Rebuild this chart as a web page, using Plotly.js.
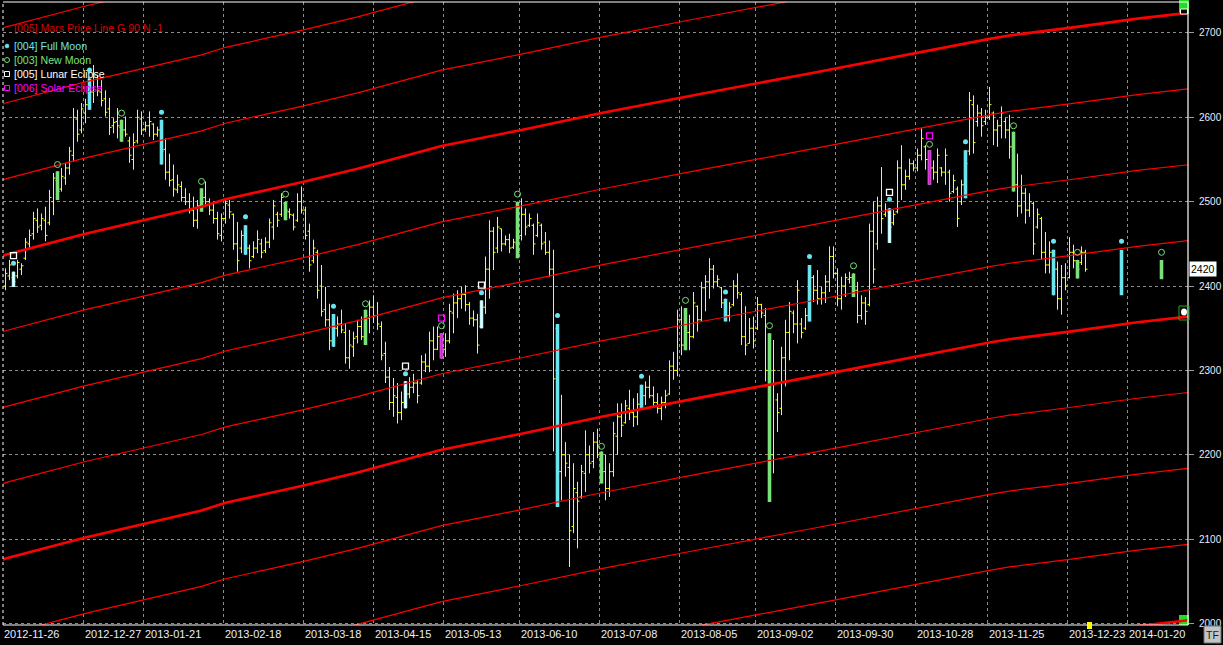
<!DOCTYPE html>
<html><head><meta charset="utf-8">
<script src="https://cdn.plot.ly/plotly-3.0.1.min.js"></script>
<style>html,body{margin:0;padding:0;background:#000;overflow:hidden}#chart{width:1223px;height:645px}</style>
</head><body><div id="chart"></div><script>
// ---------- DATA ----------
const barOpen = [
2400,2412,2410,2412,2420,2433,2450,2462,2478,2472,
2478,2475,2500,2525,2515,2528,2540,2555,2598,2585,
2605,2615,2630,2645,2630,2622,2610,2590,2595,2588,
2585,2572,2550,2572,2598,2586,2590,2592,2580,2585,
2562,2535,2526,2514,2518,2505,2500,2490,2478,2495,
2505,2500,2490,2480,2460,2480,2496,2485,2450,2445,
2460,2445,2435,2445,2450,2442,2452,2470,2485,2485,
2498,2488,2484,2478,2500,2490,2465,2430,2440,2400,
2372,2360,2335,2350,2355,2345,2315,2328,2340,2352,
2340,2362,2375,2365,2352,2320,2292,2262,2268,2250,
2262,2272,2280,2285,2285,2310,2305,2335,2325,2340,
2325,2335,2368,2380,2385,2390,2378,2362,2360,2352,
2375,2420,2465,2445,2468,2450,2455,2446,2450,2460,
2485,2472,2472,2460,2472,2452,2440,2420,2350,2180,
2200,2185,2115,2155,2150,2178,2200,2192,2215,2198,
2180,2160,2180,2222,2245,2238,2255,2250,2245,2260,
2270,2280,2270,2262,2255,2262,2272,2305,2300,2360,
2330,2345,2340,2376,2360,2398,2405,2420,2405,2398,
2380,2365,2378,2400,2390,2340,2332,2350,2350,2378,
2365,2300,2200,2265,2255,2315,2345,2368,2355,2355,
2350,2365,2410,2395,2385,2392,2405,2435,2415,2385,
2400,2408,2410,2395,2365,2380,2378,2465,2450,2495,
2485,2488,2475,2488,2540,2520,2530,2545,2540,2555,
2565,2550,2540,2535,2540,2535,2535,2512,2515,2500,
2520,2560,2615,2595,2605,2595,2600,2605,2585,2590,
2595,2585,2565,2520,2495,2510,2490,2498,2470,2480,
2440,2425,2440,2420,2385,2410,2410,2440,2430,2428,
2440];
const barHigh = [
2421,2431,2417,2431,2427,2457,2467,2488,2492,2486,
2494,2514,2534,2536,2540,2546,2565,2611,2609,2617,
2622,2646,2662,2650,2644,2632,2623,2599,2611,2597,
2601,2577,2581,2609,2607,2595,2607,2593,2589,2597,
2575,2557,2544,2532,2524,2516,2510,2506,2502,2516,
2524,2504,2500,2488,2486,2504,2502,2486,2476,2466,
2472,2449,2453,2466,2456,2458,2480,2502,2488,2510,
2500,2492,2486,2510,2518,2494,2474,2455,2443,2425,
2399,2379,2367,2364,2372,2356,2348,2346,2360,2364,
2372,2383,2389,2381,2358,2334,2304,2291,2285,2275,
2287,2292,2296,2289,2318,2320,2346,2352,2352,2344,
2344,2379,2391,2395,2399,2401,2381,2371,2367,2383,
2435,2478,2470,2482,2468,2460,2462,2456,2500,2504,
2492,2486,2474,2486,2474,2464,2454,2443,2355,2271,
2215,2200,2190,2168,2188,2229,2211,2227,2231,2204,
2200,2190,2239,2261,2261,2265,2277,2267,2273,2283,
2287,2294,2281,2273,2269,2277,2312,2322,2372,2376,
2374,2366,2393,2377,2405,2413,2433,2425,2413,2399,
2385,2381,2407,2415,2393,2376,2362,2364,2387,2379,
2374,2344,2336,2273,2328,2360,2381,2371,2407,2362,
2374,2425,2413,2419,2399,2413,2447,2447,2421,2411,
2415,2417,2415,2405,2389,2387,2474,2500,2506,2541,
2498,2492,2490,2549,2567,2538,2551,2549,2563,2587,
2567,2561,2549,2563,2541,2563,2538,2532,2518,2526,
2561,2630,2626,2615,2611,2609,2636,2607,2597,2613,
2599,2603,2583,2557,2532,2516,2510,2500,2492,2482,
2464,2453,2443,2429,2425,2427,2458,2449,2431,2447,
2443];
const barLow = [
2395,2407,2399,2409,2413,2431,2443,2455,2463,2466,
2453,2472,2484,2502,2512,2520,2532,2548,2571,2581,
2593,2609,2617,2625,2613,2601,2579,2581,2575,2571,
2577,2546,2538,2569,2579,2583,2577,2573,2577,2544,
2526,2518,2506,2510,2500,2496,2486,2470,2468,2488,
2494,2484,2474,2455,2453,2474,2480,2443,2417,2439,
2437,2421,2433,2439,2433,2439,2445,2455,2470,2482,
2478,2480,2466,2476,2486,2455,2417,2427,2385,2364,
2352,2324,2328,2340,2344,2308,2302,2316,2332,2336,
2330,2344,2356,2348,2312,2285,2253,2245,2237,2241,
2255,2267,2273,2261,2283,2298,2298,2312,2324,2314,
2316,2332,2344,2362,2373,2370,2354,2352,2320,2350,
2367,2385,2419,2439,2441,2448,2439,2444,2433,2454,
2460,2470,2437,2458,2443,2437,2411,2204,2138,2146,
2174,2067,2107,2089,2148,2156,2178,2184,2196,2166,
2146,2150,2174,2200,2221,2237,2241,2233,2235,2253,
2259,2267,2257,2249,2241,2255,2271,2289,2293,2318,
2324,2324,2338,2346,2358,2370,2385,2397,2399,2374,
2358,2358,2376,2385,2330,2318,2332,2326,2348,2362,
2287,2144,2178,2227,2247,2281,2312,2344,2332,2338,
2348,2358,2381,2378,2378,2380,2393,2409,2376,2372,
2387,2403,2387,2356,2360,2354,2376,2403,2443,2462,
2482,2451,2472,2486,2502,2514,2526,2536,2536,2549,
2538,2520,2526,2522,2530,2520,2500,2510,2470,2496,
2504,2555,2557,2589,2577,2591,2597,2567,2565,2575,
2575,2551,2512,2482,2486,2474,2482,2437,2468,2431,
2415,2415,2389,2372,2366,2395,2409,2421,2409,2425,
2417];
const barClose = [
2415,2425,2405,2428,2424,2452,2460,2480,2470,2480,
2460,2505,2528,2512,2530,2540,2560,2600,2580,2610,
2615,2630,2650,2632,2620,2606,2588,2594,2590,2585,
2580,2555,2570,2600,2585,2590,2595,2580,2585,2560,
2535,2525,2515,2520,2505,2500,2490,2478,2495,2505,
2500,2490,2480,2462,2480,2498,2488,2450,2430,2460,
2445,2430,2445,2455,2440,2452,2475,2495,2478,2505,
2490,2485,2470,2500,2490,2460,2425,2445,2395,2370,
2360,2335,2350,2355,2348,2315,2330,2338,2352,2340,
2365,2375,2365,2355,2318,2292,2262,2270,2250,2262,
2272,2280,2285,2270,2310,2305,2335,2325,2340,2325,
2335,2370,2380,2385,2390,2378,2362,2360,2330,2375,
2420,2465,2440,2470,2450,2455,2445,2452,2440,2485,
2470,2480,2450,2475,2450,2440,2420,2290,2180,2200,
2190,2110,2160,2145,2180,2200,2190,2215,2200,2180,
2160,2180,2225,2245,2235,2258,2250,2245,2260,2270,
2280,2270,2262,2255,2262,2270,2305,2300,2360,2330,
2345,2340,2380,2360,2398,2405,2420,2405,2408,2380,
2365,2375,2400,2392,2340,2330,2350,2335,2378,2368,
2300,2200,2300,2250,2315,2345,2370,2355,2395,2345,
2365,2410,2395,2385,2392,2405,2435,2415,2385,2400,
2410,2410,2395,2365,2380,2370,2465,2420,2495,2480,
2490,2470,2485,2540,2520,2530,2545,2540,2555,2575,
2550,2540,2535,2555,2535,2555,2510,2525,2480,2520,
2545,2620,2570,2605,2590,2600,2615,2585,2590,2605,
2585,2565,2520,2495,2510,2490,2500,2450,2485,2440,
2425,2440,2420,2385,2410,2400,2440,2430,2420,2440,
2420];

// projected moon bars beyond the last session
const futureSlots = [279, 289];
const futureOpen  = [2440, 2428];
const futureHigh  = [2443, 2431];
const futureLow   = [2389, 2408];
const futureClose = [2413, 2419];

// lunar events (bar slots) and marker price levels
const fullMoonSlots = [2, 21, 39, 60, 82, 100, 119, 138, 159, 180, 201, 221, 240, 262, 279];
const fullMoonDot   = [2427, 2656, 2606, 2482, 2376, 2296, 2392, 2365, 2293, 2393, 2435, 2503, 2571, 2453, 2453];
const newMoonSlots  = [13, 29, 49, 70, 90, 109, 128, 149, 170, 191, 212, 231, 252, 268, 289];
const newMoonMark   = [2544, 2605, 2524, 2509, 2379, 2353, 2509, 2210, 2383, 2353, 2424, 2568, 2590, 2440, 2440];
const lunarEclSlots = [2, 100, 119, 221];
const lunarEclMark  = [2436, 2305, 2401, 2511];
const solarEclSlots = [109, 231];
const solarEclMark  = [2362, 2578];

// Mars price line (base harmonic) and its 90-point harmonics
const marsSlots  = [-1, 0, 20, 30, 49, 55, 74, 88, 103, 109, 129, 149, 174, 201, 246, 251, 266, 283, 296];
const marsBase   = [2075, 2077, 2102, 2113, 2134, 2143, 2163, 2179, 2198, 2206, 2225, 2245, 2268, 2292, 2333, 2337, 2346, 2357, 2364];
const marsOffsets = [-360, -270, -180, -90, 0, 90, 180, 270, 360, 450, 540, 630];

// x-axis date labels
const dateLabels = ['2012-11-26','2012-12-27','2013-01-21','2013-02-18','2013-03-18','2013-04-15','2013-05-13','2013-06-10',
  '2013-07-08','2013-08-05','2013-09-02','2013-09-30','2013-10-28','2013-11-25','2013-12-23','2014-01-20'];
const dateSlots = [-0.625, 19.5, 34.5, 54.5, 74.5, 92, 109.5, 128.5, 148.5, 168.5, 187.5, 207.5, 227.5, 245.5, 265.5, 280.5];

const priceTicks = [2000, 2100, 2200, 2300, 2400, 2500, 2600, 2700];
const lastPrice = 2420;

// ---------- STYLE ----------
const C_YEL = '#FFFF00', C_CYAN = '#6CE4EE', C_GREEN = '#7AE07A', C_MAG = '#FF00FF', C_WHITE = '#FFFFFF', C_RED = '#FF0000';
const C_GRID = '#8c8c8c', C_LBL = '#E8EEFF';
const FONT = 'Liberation Sans, Arial, sans-serif';
const PL = 3, PT = 2, W = 1223, H = 645, PR = 35, PB = 20;
const xMin = -0.625, xMax = 295.625, yMin = 1998.2, yMax = 2736.7;
const paperX = s => (s - xMin) / (xMax - xMin);

function pick(list) {
  const o = [], h = [], l = [], c = [];
  list.forEach(s => {
    if (s < barHigh.length) { o.push(barOpen[s]); h.push(barHigh[s]); l.push(barLow[s]); c.push(barClose[s]); }
    else { const k = futureSlots.indexOf(s); o.push(futureOpen[k]); h.push(futureHigh[k]); l.push(futureLow[k]); c.push(futureClose[k]); }
  });
  return {o, h, l, c};
}
function ohlc(xs, color, width, tickPx) {
  const d = pick(xs);
  let gap = Infinity;
  for (let i = 1; i < xs.length; i++) gap = Math.min(gap, xs[i] - xs[i - 1]);
  if (!isFinite(gap)) gap = 1;
  return {type: 'ohlc', x: xs, open: d.o, high: d.h, low: d.l, close: d.c,
    increasing: {line: {color: color, width: width}}, decreasing: {line: {color: color, width: width}},
    tickwidth: Math.min(0.5, tickPx / 4 / gap), hoverinfo: 'skip', showlegend: false};
}

const traces = [];
marsOffsets.forEach(off => {
  traces.push({type: 'scatter', mode: 'lines', x: marsSlots, y: marsBase.map(v => v + off),
    line: {color: C_RED, width: (off % 360 === 0) ? 2.6 : 1.2}, hoverinfo: 'skip', showlegend: false});
});
const allSlots = barHigh.map((_, i) => i);
traces.push(ohlc(allSlots, C_YEL, 1, 2));
traces.push(ohlc(fullMoonSlots, C_CYAN, 3.6, 2));
traces.push(ohlc(newMoonSlots, C_GREEN, 3.6, 2));
traces.push(ohlc(lunarEclSlots, C_WHITE, 2.2, 2));
traces.push(ohlc(solarEclSlots, C_MAG, 2.4, 2));
traces.push({type: 'scatter', mode: 'markers', x: fullMoonSlots, y: fullMoonDot,
  marker: {symbol: 'circle', size: 5, color: C_CYAN, line: {width: 0}}, hoverinfo: 'skip', showlegend: false});
traces.push({type: 'scatter', mode: 'markers', x: newMoonSlots, y: newMoonMark,
  marker: {symbol: 'circle-open', size: 6, color: C_GREEN, line: {width: 1, color: C_GREEN}}, hoverinfo: 'skip', showlegend: false});
traces.push({type: 'scatter', mode: 'markers', x: lunarEclSlots, y: lunarEclMark,
  marker: {symbol: 'square-open', size: 6, color: C_WHITE, line: {width: 1.3, color: C_WHITE}}, hoverinfo: 'skip', showlegend: false});
traces.push({type: 'scatter', mode: 'markers', x: solarEclSlots, y: solarEclMark,
  marker: {symbol: 'square-open', size: 6, color: C_MAG, line: {width: 1.3, color: C_MAG}}, hoverinfo: 'skip', showlegend: false});

// pixel-placed shapes
function px(type, x0, y0, x1, y1, fill, line, lw, extra) {
  return Object.assign({type: type, xref: 'paper', yref: 'paper', xsizemode: 'pixel', ysizemode: 'pixel',
    xanchor: 0, yanchor: 1, x0: x0 - PL, x1: x1 - PL, y0: -(y0 - PT), y1: -(y1 - PT),
    fillcolor: fill, line: {color: line, width: lw}, layer: 'above'}, extra || {});
}
const shapes = [
  {type: 'line', xref: 'paper', yref: 'paper', x0: 0, x1: 1, y0: 1, y1: 1, line: {color: '#fff', width: 1.2}},
  {type: 'line', xref: 'paper', yref: 'paper', x0: 1, x1: 1, y0: 0, y1: 1, line: {color: '#fff', width: 1.2}},
  {type: 'line', xref: 'paper', yref: 'paper', x0: 0, x1: 1, y0: 0, y1: 0, line: {color: '#fff', width: 1.2}},
  {type: 'line', xref: 'paper', yref: 'paper', x0: 0, x1: 0, y0: 0, y1: 1, line: {color: '#fff', width: 1, dash: '3px,3px'}},
  // legend symbols
  px('circle', 5, 44, 9, 48, C_CYAN, C_CYAN, 0.5),
  px('circle', 4.5, 57.5, 9.5, 62.5, 'rgba(0,0,0,0)', C_GREEN, 1),
  px('rect', 4.5, 71.5, 9.5, 76.5, 'rgba(0,0,0,0)', C_WHITE, 1),
  px('rect', 4.5, 85.5, 9.5, 90.5, 'rgba(0,0,0,0)', C_MAG, 1),
  // right-edge markers
  px('rect', 1179, 0, 1189, 14, '#22dd22', '#22dd22', 0, {layer: 'below'}),
  px('rect', 1180.5, 9, 1187.5, 14, '#000', '#fff', 1),
  px('rect', 1179, 306, 1189, 320, 'rgba(0,0,0,0)', '#22aa22', 1),
  px('circle', 1181, 308.5, 1187, 315.5, '#fff', '#fff', 0),
  px('rect', 1179, 615, 1189, 625, '#22dd22', '#22dd22', 0, {layer: 'below'}),
  px('rect', 1087, 622, 1092, 629, C_YEL, C_YEL, 0),
  // TF button
  px('rect', 1204, 626, 1221, 643, '#c4c4c4', '#6e6e6e', 1)
];

const annotations = [];
dateLabels.forEach((t, i) => annotations.push({xref: 'paper', x: paperX(dateSlots[i]), xanchor: 'left', xshift: -1,
  yref: 'paper', y: 0, yanchor: 'top', yshift: -1, text: t, showarrow: false,
  font: {family: FONT, size: 11, color: C_LBL}}));
const legendRows = [
  ['[005] Mars Price Line G 90 N -1', 28, '#D80000'],
  ['[004] Full Moon', 46, C_CYAN],
  ['[003] New Moon', 60, C_GREEN],
  ['[005] Lunar Eclipse', 74, C_WHITE],
  ['[006] Solar Eclipse', 88, C_MAG]
];
legendRows.forEach(r => annotations.push({xref: 'paper', x: 0, xshift: 12 - PL, xanchor: 'left',
  yref: 'paper', y: 1, yshift: -(r[1] - PT), yanchor: 'middle', text: r[0], showarrow: false,
  font: {family: FONT, size: 10.6, color: r[2]}}));
annotations.push({xref: 'paper', x: 1, xanchor: 'left', xshift: 1, yref: 'y', y: lastPrice, yanchor: 'middle',
  text: String(lastPrice), showarrow: false, bgcolor: '#ffffff', borderpad: 1,
  font: {family: FONT, size: 10.5, color: '#000'}});
annotations.push({xref: 'paper', x: 1, xanchor: 'center', xshift: 1212.5 - (W - PR), yref: 'paper', y: 0,
  yanchor: 'middle', yshift: -(634.5 - (H - PB)), text: 'TF', showarrow: false,
  font: {family: FONT, size: 10.5, color: '#1a1a1a'}});

const layout = {
  width: W, height: H, margin: {l: PL, r: PR, t: PT, b: PB, pad: 0},
  paper_bgcolor: '#000', plot_bgcolor: 'rgba(0,0,0,0)', showlegend: false, hovermode: false,
  xaxis: {range: [xMin, xMax], tickvals: dateSlots.slice(1), showticklabels: false, ticks: '',
    showgrid: true, gridcolor: C_GRID, griddash: '3px,3px', gridwidth: 1, zeroline: false, showline: false,
    rangeslider: {visible: false}, fixedrange: true},
  yaxis: {range: [yMin, yMax], side: 'right', tickvals: priceTicks, ticktext: priceTicks.map(String),
    ticks: 'outside', ticklen: 5, tickcolor: '#9a9a9a', tickwidth: 1, ticklabelstandoff: 3,
    tickfont: {family: FONT, size: 10, color: C_LBL}, showgrid: true, gridcolor: C_GRID, griddash: '3px,3px',
    gridwidth: 1, zeroline: false, showline: false, fixedrange: true},
  shapes: shapes, annotations: annotations
};
Plotly.newPlot('chart', traces, layout, {staticPlot: true, displayModeBar: false});
</script></body></html>
